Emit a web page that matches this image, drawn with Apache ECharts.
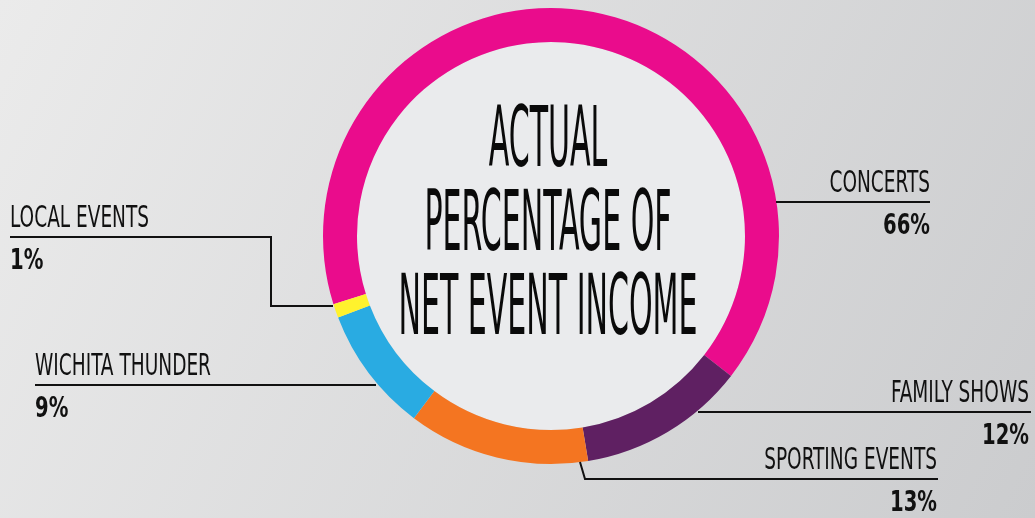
<!DOCTYPE html>
<html>
<head>
<meta charset="utf-8">
<script src="https://cdn.jsdelivr.net/npm/echarts@6/dist/echarts.min.js"></script>
<style>
  html, body { margin: 0; padding: 0; }
  #chart { width: 1035px; height: 518px; }
</style>
</head>
<body>
<div id="chart"></div>
<script>
// data
const categories = ['CONCERTS', 'FAMILY SHOWS', 'SPORTING EVENTS', 'WICHITA THUNDER', 'LOCAL EVENTS'];
const shares = [66, 12, 13, 9, 1];
const sliceColors = ['#ea0c8c', '#5f2062', '#f47521', '#29abe2', '#fff22d'];
const titleLines = ['ACTUAL', 'PERCENTAGE OF', 'NET EVENT INCOME'];

// ring geometry
const CX = 551, CY = 236, R_IN = 194, R_OUT = 228;
const FONT = '"Liberation Sans Narrow", "DejaVu Sans Condensed", Roboto, sans-serif';

// where each label + leader line sits (same order as categories)
const labelSpots = [
  { x: 930, y: 202, align: 'right', line: [[776, 202], [930, 202]] },
  { x: 1029, y: 412, align: 'right', line: [[698, 412], [1031, 412]] },
  { x: 937, y: 479, align: 'right', line: [[580, 462], [585, 479], [938, 479]] },
  { x: 35, y: 385, align: 'left', line: [[376, 385], [35, 385]] },
  { x: 10, y: 237, align: 'left', line: [[333, 306], [271, 306], [271, 237], [10, 237]] }
];

function textWidth(text, size, weight) {
  const ctx = document.createElement('canvas').getContext('2d');
  ctx.font = weight + ' ' + size + 'px ' + FONT;
  return ctx.measureText(text).width;
}

// the original uses a very condensed face, so squeeze text horizontally
const titleScale = 299 / textWidth('NET EVENT INCOME', 84, 'normal');
const nameScale = 176 / textWidth('WICHITA THUNDER', 30, 'normal');
const valueScale = 47 / textWidth('66%', 28, 'bold');

const myChart = echarts.init(document.getElementById('chart'));

const graphics = [
  {
    type: 'circle',
    z: 0,
    shape: { cx: CX, cy: CY, r: R_IN },
    style: { fill: '#eaebed' }
  }
];

titleLines.forEach(function (line, i) {
  graphics.push({
    type: 'text',
    z: 10,
    x: 548,
    y: 144 + i * 84,
    scaleX: titleScale,
    style: {
      text: line,
      fontSize: 84,
      fontFamily: FONT,
      fill: '#0a0a0a',
      align: 'center',
      verticalAlign: 'middle'
    }
  });
});

categories.forEach(function (name, i) {
  const spot = labelSpots[i];
  graphics.push({
    type: 'polyline',
    z: 10,
    shape: { points: spot.line },
    style: { stroke: '#111', lineWidth: 2, fill: null }
  });
  graphics.push({
    type: 'text',
    z: 10,
    x: spot.x,
    y: spot.y - 18,
    scaleX: nameScale,
    style: {
      text: name,
      fontSize: 30,
      fontFamily: FONT,
      fill: '#111',
      align: spot.align,
      verticalAlign: 'middle'
    }
  });
  graphics.push({
    type: 'text',
    z: 10,
    x: spot.x,
    y: spot.y + 25,
    scaleX: valueScale,
    style: {
      text: shares[i] + '%',
      fontSize: 28,
      fontWeight: 'bold',
      fontFamily: FONT,
      fill: '#111',
      align: spot.align,
      verticalAlign: 'middle'
    }
  });
});

const option = {
  animation: false,
  backgroundColor: new echarts.graphic.LinearGradient(0, 0, 1, 1, [
    { offset: 0, color: '#ebebeb' },
    { offset: 1, color: '#cbccce' }
  ]),
  graphic: graphics,
  series: [
    {
      type: 'pie',
      silent: true,
      center: [CX, CY],
      radius: [R_IN, R_OUT],
      startAngle: 197.4,
      clockwise: true,
      label: { show: false },
      labelLine: { show: false },
      itemStyle: { borderWidth: 0 },
      data: categories.map(function (name, i) {
        return { name: name, value: shares[i], itemStyle: { color: sliceColors[i] } };
      })
    }
  ]
};

myChart.setOption(option);

window.addEventListener('resize', function () {
  myChart.resize();
});
</script>
</body>
</html>
